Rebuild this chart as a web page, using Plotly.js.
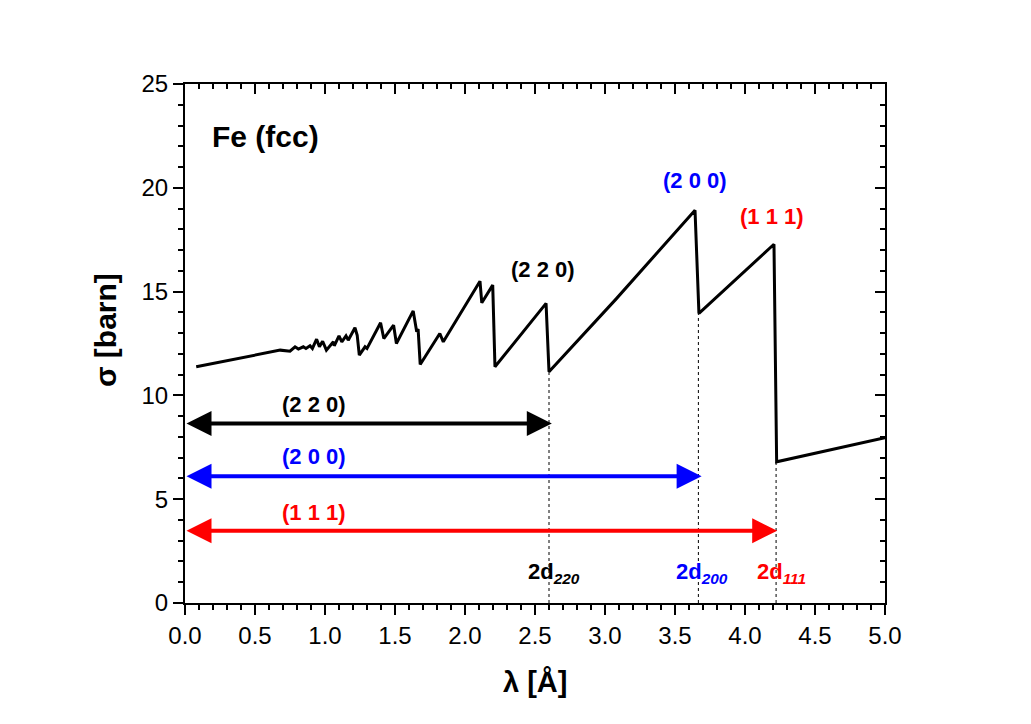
<!DOCTYPE html>
<html>
<head>
<meta charset="utf-8">
<script src="https://cdn.plot.ly/plotly-3.0.1.min.js"></script>
<style>
  body { margin: 0; background: #fff; }
  #plot { width: 1031px; height: 724px; }
</style>
</head>
<body>
<div id="plot"></div>
<script>
/* -----------------Data--------------------------------------------*/
var lam = [0.08, 0.68, 0.75, 0.786, 0.81, 0.845, 0.864, 0.893, 0.91, 0.94, 0.96, 0.983, 1.01,
  1.06, 1.066, 1.10, 1.12, 1.15, 1.166, 1.214, 1.23, 1.245, 1.286, 1.30, 1.397, 1.42, 1.49, 1.51,
  1.63, 1.655, 1.665, 1.68, 1.82, 1.845, 2.107, 2.12, 2.198, 2.214, 2.579, 2.60, 3.08, 3.643,
  3.671, 4.207, 4.226, 5.0];
var sigma = [11.38, 12.18, 12.13, 12.34, 12.23, 12.34, 12.26, 12.39, 12.26, 12.71, 12.34, 12.61, 12.18,
  12.58, 12.39, 12.87, 12.58, 12.87, 12.66, 13.26, 12.9, 11.94, 12.34, 12.26, 13.5, 12.74, 13.38, 12.5,
  14.07, 13.06, 13.2, 11.49, 12.98, 12.58, 15.5, 14.46, 15.31, 11.38, 14.43, 11.14, 14.65, 18.92,
  13.95, 17.28, 6.8, 7.96];

var planes = ['(2 2 0)', '(2 0 0)', '(1 1 1)'];
var subs = ['220', '200', '111'];
var colors = ['#000000', '#0000ff', '#ff0000'];

// Bragg edges: wavelength and sigma just after the drop
var edgeLam = [2.60, 3.667, 4.222];
var edgeSigma = [11.14, 13.95, 6.8];

// double arrows: height and right end
var arrowY = [8.65, 6.11, 3.48];
var arrowEnd = [2.62, 3.69, 4.23];
var arrowLabelY = [9.55, 7.05, 4.35];

// plane labels next to the curve
var peakLabelX = [2.555, 3.64, 4.195];
var peakLabelY = [16.07, 20.37, 18.6];

// 2d labels under the edges
var dLabelX = [2.636, 3.695, 4.264];
var dLabelY = [1.44, 1.44, 1.44];
/* ------------------------------------------------------------------*/

var FONT = 'Arial, "Liberation Sans", sans-serif';

var data = [{
  x: lam,
  y: sigma,
  type: 'scatter',
  mode: 'lines',
  line: {color: '#000', width: 3},
  hoverinfo: 'skip'
}];

/* ---------------Dotted lines down from each edge------------------*/
for (var i = 0; i < edgeLam.length; i++) {
  data.push({
    x: [edgeLam[i], edgeLam[i]],
    y: [0, edgeSigma[i]],
    type: 'scatter',
    mode: 'lines',
    line: {color: '#000', width: 1, dash: '3px,3px'},
    hoverinfo: 'skip'
  });
}

// empty trace so the top / right frame axes get drawn
data.push({x: [], y: [], xaxis: 'x2', yaxis: 'y2', type: 'scatter', hoverinfo: 'skip'});

/* ---------------Annotations---------------------------------------*/
var annotations = [];
for (var i = 0; i < planes.length; i++) {
  annotations.push({
    x: arrowEnd[i], y: arrowY[i], ax: 0, ay: arrowY[i],
    xref: 'x', yref: 'y', axref: 'x', ayref: 'y',
    text: '', showarrow: true,
    arrowhead: 2, startarrowhead: 2, arrowside: 'end+start',
    arrowwidth: 4, arrowsize: 1.25, startarrowsize: 1.25,
    arrowcolor: colors[i]
  });
  annotations.push({
    x: 0.92, y: arrowLabelY[i], xref: 'x', yref: 'y', showarrow: false,
    text: '<b>' + planes[i] + '</b>',
    font: {family: FONT, size: 22, color: colors[i]}
  });
  annotations.push({
    x: peakLabelX[i], y: peakLabelY[i], xref: 'x', yref: 'y', showarrow: false,
    text: '<b>' + planes[i] + '</b>',
    font: {family: FONT, size: 22, color: colors[i]}
  });
  annotations.push({
    x: dLabelX[i], y: dLabelY[i], xref: 'x', yref: 'y', showarrow: false,
    text: '<b>2d<sub><i>' + subs[i] + '</i></sub></b>',
    font: {family: FONT, size: 22, color: colors[i]}
  });
}

annotations.push({
  x: 0.18, y: 22.45, xref: 'x', yref: 'y', xanchor: 'left', showarrow: false,
  text: '<b>Fe (fcc)</b>',
  font: {family: FONT, size: 30, color: '#000'}
});
// axis titles
annotations.push({
  x: 0.5, y: 0, xref: 'paper', yref: 'paper', xanchor: 'center', yanchor: 'middle',
  yshift: -79, showarrow: false,
  text: '<b>λ [Å]</b>',
  font: {family: FONT, size: 29, color: '#000'}
});
annotations.push({
  x: 0, y: 0.526, xref: 'paper', yref: 'paper', xanchor: 'center', yanchor: 'middle',
  xshift: -80, textangle: -90, showarrow: false,
  text: '<b>σ [barn]</b>',
  font: {family: FONT, size: 30, color: '#000'}
});

/* ---------------Set Layout and Graph------------------------------*/
var layout = {
  width: 1031,
  height: 724,
  margin: {l: 185, r: 146, t: 84, b: 121},
  paper_bgcolor: '#fff',
  plot_bgcolor: '#fff',
  showlegend: false,
  font: {family: FONT, color: '#000'},
  xaxis: {
    range: [0, 5], dtick: 0.5, tick0: 0, tickformat: '.1f',
    ticks: 'outside', ticklen: 10, tickwidth: 2, tickcolor: '#000',
    minor: {dtick: 0.1, ticks: 'outside', ticklen: 5, tickwidth: 2, tickcolor: '#000'},
    showline: true, linewidth: 2, linecolor: '#000',
    showgrid: false, zeroline: false,
    tickfont: {family: FONT, size: 24, color: '#000'}
  },
  yaxis: {
    range: [0, 25], dtick: 5, tick0: 0,
    ticks: 'outside', ticklen: 10, tickwidth: 2, tickcolor: '#000',
    minor: {dtick: 1, ticks: 'outside', ticklen: 5, tickwidth: 2, tickcolor: '#000'},
    showline: true, linewidth: 2, linecolor: '#000',
    showgrid: false, zeroline: false,
    tickfont: {family: FONT, size: 24, color: '#000'}
  },
  xaxis2: {
    overlaying: 'x', side: 'top', anchor: 'y2',
    range: [0, 5], dtick: 0.5, tick0: 0, showticklabels: false,
    ticks: 'inside', ticklen: 10, tickwidth: 2, tickcolor: '#000',
    minor: {dtick: 0.1, ticks: 'inside', ticklen: 5, tickwidth: 2, tickcolor: '#000'},
    showline: true, linewidth: 2, linecolor: '#000',
    showgrid: false, zeroline: false
  },
  yaxis2: {
    overlaying: 'y', side: 'right', anchor: 'x2',
    range: [0, 25], dtick: 5, tick0: 0, showticklabels: false,
    ticks: 'inside', ticklen: 10, tickwidth: 2, tickcolor: '#000',
    minor: {dtick: 1, ticks: 'inside', ticklen: 5, tickwidth: 2, tickcolor: '#000'},
    showline: true, linewidth: 2, linecolor: '#000',
    showgrid: false, zeroline: false
  },
  annotations: annotations
};

Plotly.newPlot('plot', data, layout, {staticPlot: true});
</script>
</body>
</html>
